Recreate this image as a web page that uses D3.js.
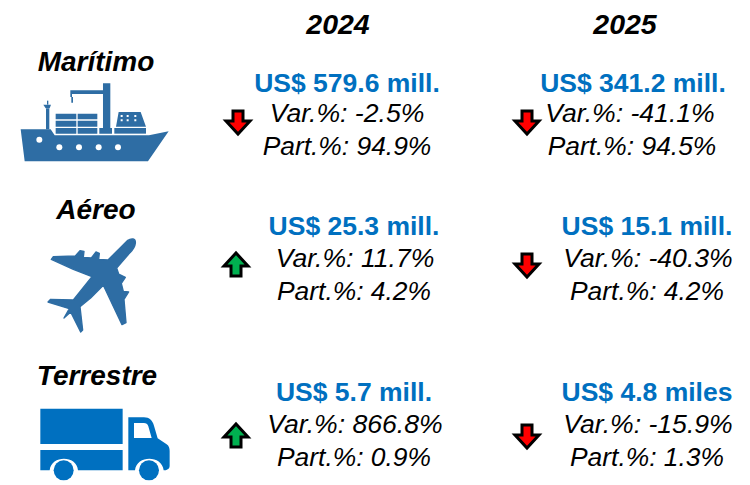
<!DOCTYPE html>
<html>
<head>
<meta charset="utf-8">
<script src="https://cdn.jsdelivr.net/npm/d3@7/dist/d3.min.js"></script>
<style>
  html, body { margin: 0; padding: 0; background: #fff; }
  text { font-family: "Liberation Sans", Arial, sans-serif; font-style: italic; }
</style>
</head>
<body>
<div id="chart"></div>
<script>
const width = 750;
const height = 485;

const years = ['2024', '2025'];
const modes = ['Marítimo', 'Aéreo', 'Terrestre'];

const amounts2024 = ['US$ 579.6 mill.', 'US$ 25.3 mill.', 'US$ 5.7 mill.'];
const amounts2025 = ['US$ 341.2 mill.', 'US$ 15.1 mill.', 'US$ 4.8 miles'];
const var2024 = [-2.5, 11.7, 866.8];
const var2025 = [-41.1, -40.3, -15.9];
const part2024 = [94.9, 4.2, 0.9];
const part2025 = [94.5, 4.2, 1.3];

// text centres move a little from row to row in the original
const amountCentre = { '2024': [347, 354, 354], '2025': [633, 647, 647] };
const varCentre = { '2024': [347, 355, 355], '2025': [630, 648, 648] };
const partCentre = { '2024': [347, 354, 354], '2025': [632, 647, 647] };
const arrowCentre = { '2024': [238, 236, 236], '2025': [527, 527, 527] };

const modeX = [96, 96, 97];
const modeBase = [71, 219, 385];
const amountBase = [92, 235, 401];
const varBase = [122, 267, 433];
const partBase = [155, 300, 466];
const arrowY = [122, 265, 436];

const svg = d3.select('#chart')
    .append('svg')
    .attr('width', width)
    .attr('height', height);

const yearX = d3.scaleOrdinal().domain(years).range([338, 625]);

svg.selectAll('.year')
    .data(years)
    .enter().append('text')
    .attr('class', 'year')
    .attr('x', d => yearX(d))
    .attr('y', 34)
    .attr('text-anchor', 'middle')
    .attr('font-size', 28.5)
    .attr('font-weight', 'bold')
    .text(d => d);

svg.selectAll('.mode')
    .data(modes)
    .enter().append('text')
    .attr('class', 'mode')
    .attr('x', (d, i) => modeX[i])
    .attr('y', (d, i) => modeBase[i])
    .attr('text-anchor', 'middle')
    .attr('font-size', 28)
    .attr('font-weight', 'bold')
    .text(d => d);

const fmt = d3.format('.1f');
// the original uses a plain hyphen for negatives
const pct = v => fmt(v).replace('\u2212', '-') + '%';

function drawYear(year, amounts, vars, parts) {
    const g = svg.append('g').attr('class', 'y' + year);

    g.selectAll('.amount')
        .data(amounts)
        .enter().append('text')
        .attr('x', (d, i) => amountCentre[year][i])
        .attr('y', (d, i) => amountBase[i])
        .attr('text-anchor', 'middle')
        .attr('font-size', 26.5)
        .attr('font-weight', 'bold')
        .style('font-style', 'normal')
        .attr('fill', '#0070c0')
        .text(d => d);

    g.selectAll('.var')
        .data(vars)
        .enter().append('text')
        .attr('x', (d, i) => varCentre[year][i])
        .attr('y', (d, i) => varBase[i])
        .attr('text-anchor', 'middle')
        .attr('font-size', 26.6)
        .text(d => 'Var.%: ' + pct(d));

    g.selectAll('.part')
        .data(parts)
        .enter().append('text')
        .attr('x', (d, i) => partCentre[year][i])
        .attr('y', (d, i) => partBase[i])
        .attr('text-anchor', 'middle')
        .attr('font-size', 26.4)
        .text(d => 'Part.%: ' + pct(d));

    // block arrow, pointing by the sign of the variation
    const arrow = 'M-5,-11H5V-1H12L0,12L-12,-1H-5Z';
    g.selectAll('.arrow')
        .data(vars)
        .enter().append('path')
        .attr('d', arrow)
        .attr('transform', (d, i) => `translate(${arrowCentre[year][i]},${arrowY[i]}) scale(1,${d < 0 ? 1 : -1})`)
        .attr('fill', d => d < 0 ? '#ff0000' : '#00b050')
        .attr('stroke', '#000')
        .attr('stroke-width', 3);
}

drawYear('2024', amounts2024, var2024, part2024);
drawYear('2025', amounts2025, var2025, part2025);

// Icons, traced in the 3x crop coordinates
const ship = svg.append('g')
    .attr('transform', 'translate(0,30) scale(0.3333)')
    .attr('fill', '#2e6da4');
ship.append('path').attr('d', 'M62,298L152,298L164,316L447,316L506,304L444,394L74,394Z');
ship.append('path').attr('d', 'M138,235H148V298H138Z');
ship.append('path').attr('d', 'M130,224H153L149,235H137Z');
ship.append('path').attr('d', 'M141,212H145V224H141Z');
ship.append('path').attr('d', 'M167,251H229V268H167ZM233,251H292V268H233ZM167,272H229V290H167ZM233,272H292V290H233ZM167,294H229V311H167ZM233,294H292V311H233Z');
ship.append('path').attr('d', 'M309,160H331V294H336V311H298V294H309V192H216V201H211V181H309Z');
ship.append('path').attr('d', 'M214,201H219V218H214Z');
ship.append('path').attr('fill-rule', 'evenodd')
    .attr('d', 'M356,246H422L438,290H348ZM362,255v6h6v-6ZM380,255v6h6v-6ZM403,255v6h6v-6ZM362,268v6h6v-6ZM380,268v6h6v-6ZM403,268v6h6v-6Z');
ship.append('path').attr('d', 'M343,294H438V311H343Z');
ship.selectAll('.hole')
    .data([[118, 329, 9], [178, 352, 9], [237, 352, 9], [296, 352, 9], [354, 352, 9]])
    .enter().append('circle')
    .attr('cx', d => d[0]).attr('cy', d => d[1]).attr('r', d => d[2])
    .attr('fill', '#fff');

svg.append('path')
    .attr('transform', 'translate(20,190) scale(0.3333)')
    .attr('fill', '#2e6da4')
    .attr('stroke', '#2e6da4')
    .attr('stroke-width', 4)
    .attr('stroke-linejoin', 'round')
    .attr('d', 'M322,152C334,144 348,144 346,160C345,170 338,180 330,188L290,234L296,252L316,262L304,280L310,304L326,306L312,328L318,398L306,404L250,286L212,324L180,350L188,420L182,426L152,366L132,384L148,356L84,336L92,328L160,330L216,260L160,238L94,208L100,200L166,198L180,182L192,184L190,202L214,204L228,186L238,190L236,208L264,210Z');

const truck = svg.append('g')
    .attr('transform', 'translate(20,355) scale(0.3333)')
    .attr('fill', '#0070c0');
truck.append('path').attr('d', 'M61,161H308V267H61Z');
truck.append('path').attr('d', 'M61,285H308V346H174C170,300 94,300 89,346H61Z');
truck.append('path').attr('fill-rule', 'evenodd')
    .attr('d', 'M325,187H372C388,187 398,197 402,212L413,250L440,268C447,273 449,280 449,288V332C449,342 440,346 431,346C426,300 350,300 345,346H325ZM342,204V249H395L385,214C383,207 378,204 372,204Z');
truck.selectAll('.wheel')
    .data([[131, 346, 30], [387, 346, 30]])
    .enter().append('circle')
    .attr('cx', d => d[0]).attr('cy', d => d[1]).attr('r', d => d[2]);
</script>
</body>
</html>
